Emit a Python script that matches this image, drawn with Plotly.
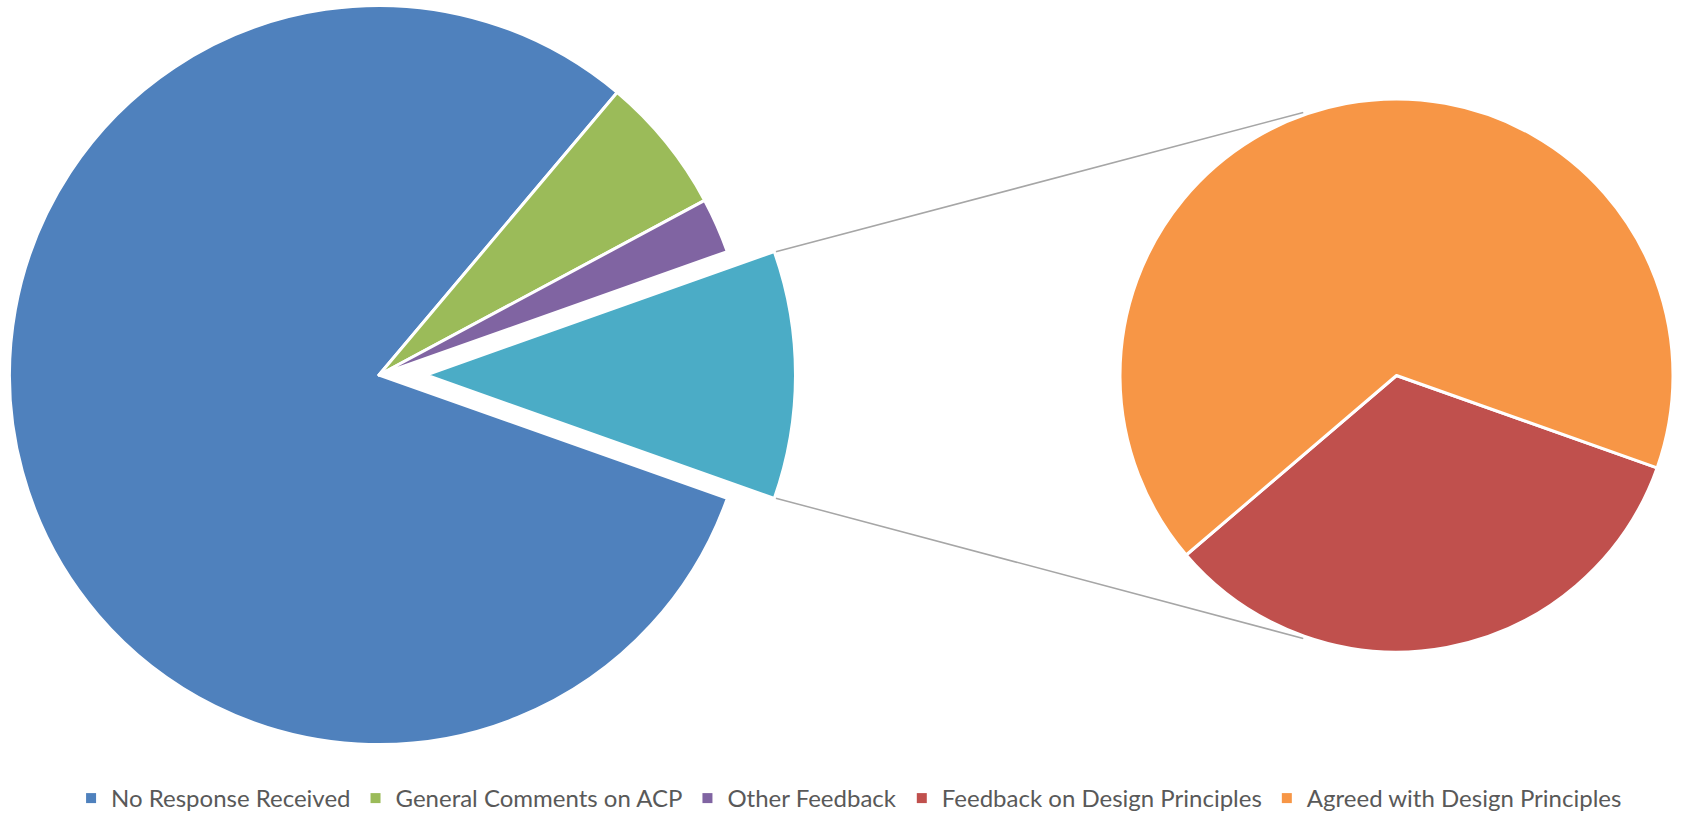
import math
import plotly.graph_objects as go

# ---- data ----
main_labels = ["No Response Received", "General Comments on ACP", "Other Feedback"]
main_values = [67, 5, 2]
sub_labels = ["Feedback on Design Principles", "Agreed with Design Principles"]
sub_values = [3, 6]

main_colors = ["#4F81BD", "#9BBB59", "#8064A2"]
other_color = "#4BACC6"
sub_colors = ["#C0504D", "#F79646"]

# ---- layout geometry (pixels on the 1683x813 page) ----
W, H = 1683, 813
main_c = (379.0, 375.0)
main_r = 369.5
explode_px = 47.0
sub_c = (1396.5, 375.5)
sub_r = 276.5

other_value = sum(sub_values)
total = sum(main_values) + other_value
half_other_deg = other_value / total * 180.0
rot_main = 90.0 + half_other_deg          # first slice starts just below the "other" wedge
rot_other = 90.0 - half_other_deg


def domain(c, r):
    cx, cy = c
    return dict(x=[(cx - r) / W, (cx + r) / W],
                y=[(H - cy - r) / H, (H - cy + r) / H])


fig = go.Figure()

# main pie (the "other" wedge left empty, drawn exploded by the next trace)
fig.add_trace(go.Pie(
    labels=main_labels + ["Other"],
    values=main_values + [other_value],
    marker=dict(colors=main_colors + ["rgba(0,0,0,0)"],
                line=dict(color="white", width=[3, 3, 3, 0])),
    sort=False, direction="clockwise", rotation=rot_main,
    textinfo="none", showlegend=False, hoverinfo="label+value",
    domain=domain(main_c, main_r),
))

# exploded "other" wedge
fig.add_trace(go.Pie(
    labels=["Other", "rest"],
    values=[other_value, sum(main_values)],
    marker=dict(colors=[other_color, "rgba(0,0,0,0)"],
                line=dict(color="white", width=[3, 0])),
    sort=False, direction="clockwise", rotation=rot_other,
    textinfo="none", showlegend=False, hoverinfo="skip",
    domain=domain((main_c[0] + explode_px, main_c[1]), main_r),
))

# secondary pie
fig.add_trace(go.Pie(
    labels=sub_labels,
    values=sub_values,
    marker=dict(colors=sub_colors, line=dict(color="white", width=3)),
    sort=False, direction="clockwise", rotation=rot_main,
    textinfo="none", showlegend=False, hoverinfo="label+value",
    domain=domain(sub_c, sub_r),
))

# legend entries
for lab, col in zip(main_labels + sub_labels, main_colors + sub_colors):
    fig.add_trace(go.Scatter(
        x=[None], y=[None], mode="markers", name=lab,
        marker=dict(symbol="square", size=10, color=col),
        showlegend=True,
    ))

# connector lines
a = math.radians(half_other_deg)
ox = main_c[0] + explode_px
r_vis = main_r - 1.5
p_up = (ox + r_vis * math.cos(a) + 2, main_c[1] - r_vis * math.sin(a))
p_dn = (ox + r_vis * math.cos(a) + 2, main_c[1] + r_vis * math.sin(a))
r2 = sub_r + 2.5
q_up = (sub_c[0] - r2 * math.sin(a), sub_c[1] - r2 * math.cos(a))
q_dn = (sub_c[0] - r2 * math.sin(a), sub_c[1] + r2 * math.cos(a))

shapes = []
for p, q in [(p_up, q_up), (p_dn, q_dn)]:
    shapes.append(dict(type="line", xref="paper", yref="paper",
                       x0=p[0] / W, y0=1 - p[1] / H, x1=q[0] / W, y1=1 - q[1] / H,
                       line=dict(color="#A6A6A6", width=1.5), layer="below"))

fig.update_layout(
    width=W, height=H,
    margin=dict(l=0, r=0, t=0, b=0, autoexpand=False),
    paper_bgcolor="white", plot_bgcolor="white",
    xaxis=dict(visible=False), yaxis=dict(visible=False),
    shapes=shapes,
    legend=dict(orientation="h", x=0.5045, xanchor="center",
                y=1 - 798.5 / H, yanchor="middle",
                font=dict(family="Lato", size=24, color="#595959"),
                bgcolor="rgba(0,0,0,0)", itemwidth=30),
)

fig.write_html("out.html")
